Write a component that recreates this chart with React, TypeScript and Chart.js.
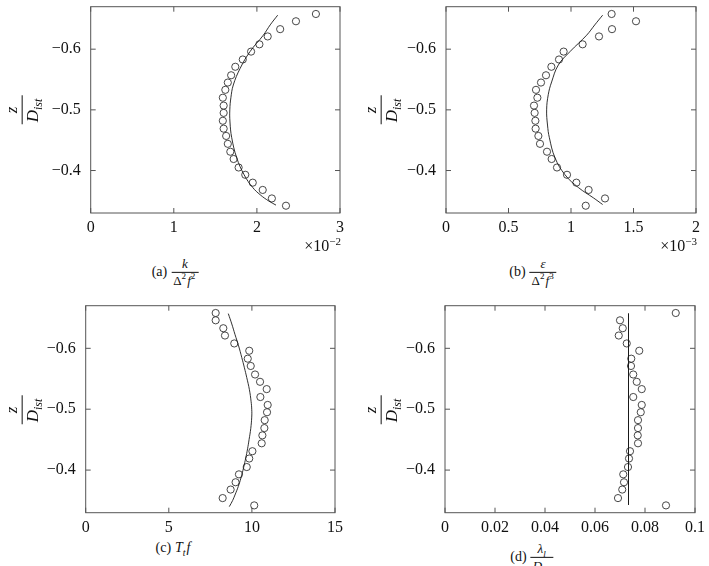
import React, { useEffect, useRef } from "react";
import { Chart, registerables } from "chart.js";

Chart.register(...registerables);

// shared measurement heights z / D_ist
const zPts = [-0.658, -0.646, -0.633, -0.621, -0.608, -0.596, -0.583, -0.571, -0.557, -0.545, -0.533, -0.520, -0.507, -0.495, -0.482, -0.469, -0.457, -0.444, -0.431, -0.419, -0.405, -0.393, -0.380, -0.368, -0.354, -0.342];

// (a) k / (Δ² f²)  [×10^-2]
const kPts = [2.71, 2.47, 2.28, 2.13, 2.03, 1.93, 1.83, 1.74, 1.69, 1.65, 1.62, 1.59, 1.60, 1.60, 1.59, 1.60, 1.63, 1.65, 1.68, 1.72, 1.78, 1.86, 1.95, 2.07, 2.18, 2.35];
const kCurveZ = [-0.656, -0.64, -0.623, -0.596, -0.568, -0.541, -0.52, -0.5, -0.48, -0.454, -0.421, -0.393, -0.372, -0.36, -0.35, -0.343];
const kCurveX = [2.25, 2.16, 2.077, 1.917, 1.797, 1.716, 1.687, 1.674, 1.676, 1.697, 1.757, 1.846, 1.95, 2.04, 2.14, 2.23];

// (b) ε / (Δ² f³)  [×10^-3]
const epsPts = [1.325, 1.52, 1.328, 1.224, 1.093, 0.941, 0.904, 0.843, 0.80, 0.76, 0.72, 0.731, 0.704, 0.709, 0.715, 0.717, 0.739, 0.752, 0.808, 0.845, 0.888, 0.968, 1.043, 1.141, 1.272, 1.118];
const epsCurveZ = [-0.656, -0.64, -0.623, -0.596, -0.574, -0.546, -0.525, -0.5, -0.475, -0.454, -0.421, -0.393, -0.372, -0.355, -0.344];
const epsCurveX = [1.253, 1.19, 1.125, 0.992, 0.899, 0.845, 0.818, 0.805, 0.812, 0.827, 0.872, 0.952, 1.059, 1.179, 1.253];

// (c) T_t f
const ttPts = [7.82, 7.82, 8.28, 8.38, 8.94, 9.84, 9.75, 9.93, 10.19, 10.49, 10.89, 10.51, 10.95, 10.91, 10.77, 10.75, 10.63, 10.59, 10.03, 9.84, 9.69, 9.22, 9.02, 8.72, 8.24, 10.14];
const ttCurveZ = [-0.657, -0.64, -0.623, -0.604, -0.585, -0.568, -0.552, -0.532, -0.513, -0.5, -0.487, -0.468, -0.45, -0.435, -0.42, -0.404, -0.387, -0.373, -0.359, -0.35, -0.34];
const ttCurveX = [8.58, 8.79, 8.98, 9.2, 9.39, 9.55, 9.69, 9.85, 9.95, 9.99, 9.99, 9.93, 9.83, 9.74, 9.63, 9.5, 9.34, 9.18, 8.98, 8.84, 8.64];

// (d) λ_l / D_ist
const lamPts = [0.0923, 0.0700, 0.0711, 0.0695, 0.0727, 0.0777, 0.0745, 0.0744, 0.0753, 0.0767, 0.0787, 0.0753, 0.0787, 0.0783, 0.0772, 0.0772, 0.0771, 0.0772, 0.0740, 0.0736, 0.0732, 0.0713, 0.0716, 0.0709, 0.0692, 0.0884];
const lamCurveZ = [-0.657, -0.343];
const lamCurveX = [0.0734, 0.0734];

const yTicks = [-0.6, -0.5, -0.4];
const yMin = -0.67;
const yMax = -0.33;

const FONT = "'Liberation Serif', 'Times New Roman', serif";

const framePlugin = {
  id: "frame",
  beforeDatasetsDraw(chart: any) {
    const { ctx, chartArea, scales } = chart;
    const { left, right, top, bottom } = chartArea;
    ctx.save();
    ctx.strokeStyle = "#555";
    ctx.lineWidth = 1;
    ctx.strokeRect(left, top, right - left, bottom - top);
    const L = 5;
    ctx.beginPath();
    for (const t of scales.x.ticks) {
      const px = scales.x.getPixelForValue(t.value);
      ctx.moveTo(px, bottom);
      ctx.lineTo(px, bottom - L);
      ctx.moveTo(px, top);
      ctx.lineTo(px, top + L);
    }
    for (const t of scales.y.ticks) {
      const py = scales.y.getPixelForValue(t.value);
      ctx.moveTo(left, py);
      ctx.lineTo(left + L, py);
      ctx.moveTo(right, py);
      ctx.lineTo(right - L, py);
    }
    ctx.stroke();
    ctx.restore();
  },
};

type PanelProps = {
  left: number;
  top: number;
  width: number;
  height: number;
  yWidth: number;
  xHeight: number;
  padTop: number;
  padRight: number;
  xMax: number;
  xStep: number;
  pts: number[];
  curveZ: number[];
  curveX: number[];
  tension: number;
};

function Panel(p: PanelProps) {
  const ref = useRef<HTMLCanvasElement>(null);
  useEffect(() => {
    if (!ref.current) return;
    const chart = new Chart(ref.current, {
      type: "scatter",
      data: {
        datasets: [
          {
            data: p.curveX.map((x, i) => ({ x, y: p.curveZ[i] })),
            showLine: true,
            tension: p.tension,
            borderColor: "#1a1a1a",
            borderWidth: 0.9,
            pointRadius: 0,
            fill: false,
          },
          {
            data: p.pts.map((x, i) => ({ x, y: zPts[i] })),
            showLine: false,
            pointStyle: "circle",
            pointRadius: 3.6,
            borderColor: "#333",
            borderWidth: 0.9,
            backgroundColor: "rgba(0,0,0,0)",
          },
        ],
      },
      options: {
        responsive: false,
        animation: false,
        events: [],
        layout: { padding: { top: p.padTop, right: p.padRight, left: 0, bottom: 0 } },
        plugins: { legend: { display: false }, tooltip: { enabled: false } },
        scales: {
          x: {
            type: "linear",
            min: 0,
            max: p.xMax,
            grid: { display: false, drawTicks: false },
            border: { display: false },
            ticks: {
              stepSize: p.xStep,
              padding: 5,
              color: "#111",
              font: { family: FONT, size: 16 },
              callback: (v: any) => String(Number(Number(v).toFixed(4))),
            },
            afterFit: (s: any) => {
              s.height = p.xHeight;
              s.paddingLeft = 0;
              s.paddingRight = 0;
            },
          },
          y: {
            type: "linear",
            reverse: true,
            min: yMin,
            max: yMax,
            grid: { display: false, drawTicks: false },
            border: { display: false },
            afterBuildTicks: (s: any) => {
              s.ticks = yTicks.map((v) => ({ value: v }));
            },
            ticks: {
              padding: 10,
              color: "#111",
              font: { family: FONT, size: 16 },
              callback: (v: any) => "\u2212" + Math.abs(Number(v)).toFixed(1),
            },
            afterFit: (s: any) => {
              s.width = p.yWidth;
              s.paddingTop = 0;
              s.paddingBottom = 0;
            },
          },
        },
      },
      plugins: [framePlugin],
    } as any);
    return () => chart.destroy();
  }, []);
  return (
    <canvas
      ref={ref}
      width={p.width}
      height={p.height}
      style={{ position: "absolute", left: p.left, top: p.top, width: p.width, height: p.height }}
    />
  );
}

const Frac = ({ num, den, size }: { num: any; den: any; size: number }) => (
  <span
    style={{
      display: "inline-flex",
      flexDirection: "column",
      alignItems: "center",
      verticalAlign: "middle",
      fontSize: size,
      lineHeight: 1.05,
    }}
  >
    <span style={{ padding: "0 2px 1px" }}>{num}</span>
    <span style={{ borderTop: "0.8px solid #111", padding: "1px 2px 0", whiteSpace: "nowrap" }}>{den}</span>
  </span>
);

const supS: React.CSSProperties = { fontSize: "70%", verticalAlign: "super", lineHeight: 0, marginRight: 1 };
const subS: React.CSSProperties = { fontSize: "70%", verticalAlign: "sub", lineHeight: 0, fontStyle: "italic", marginRight: 1 };

const YTitle = ({ cx, cy }: { cx: number; cy: number }) => (
  <div
    style={{
      position: "absolute",
      left: cx,
      top: cy,
      transform: "translate(-50%,-50%) rotate(-90deg)",
      fontFamily: FONT,
      color: "#111",
      whiteSpace: "nowrap",
    }}
  >
    <Frac
      size={17}
      num={<i>z</i>}
      den={
        <>
          <i>D</i>
          <span style={subS}>ist</span>
        </>
      }
    />
  </div>
);

const Caption = ({ cx, cy, children }: { cx: number; cy: number; children: any }) => (
  <div
    style={{
      position: "absolute",
      left: cx,
      top: cy,
      transform: "translate(-50%,-50%)",
      fontFamily: FONT,
      fontSize: 14,
      color: "#111",
      whiteSpace: "nowrap",
      display: "flex",
      alignItems: "center",
      gap: 4,
    }}
  >
    {children}
  </div>
);

const Exponent = ({ right, cy, exp }: { right: number; cy: number; exp: string }) => (
  <div
    style={{
      position: "absolute",
      right: 709 - right,
      top: cy,
      transform: "translateY(-50%)",
      fontFamily: FONT,
      fontSize: 16,
      color: "#111",
      whiteSpace: "nowrap",
    }}
  >
    ×10<span style={{ fontSize: 11, verticalAlign: "super", lineHeight: 0 }}>{exp}</span>
  </div>
);

export default function App() {
  return (
    <div
      style={{
        position: "fixed",
        left: 0,
        top: 0,
        width: 709,
        height: 566,
        overflow: "hidden",
        background: "#fff",
      }}
    >
      <Panel left={0} top={0} width={354} height={240} yWidth={90.7} xHeight={27} padTop={6.7} padRight={14}
        xMax={3} xStep={1} pts={kPts} curveZ={kCurveZ} curveX={kCurveX} tension={0.4} />
      <Panel left={354} top={0} width={355} height={240} yWidth={92} xHeight={27} padTop={6.7} padRight={13}
        xMax={2} xStep={0.5} pts={epsPts} curveZ={epsCurveZ} curveX={epsCurveX} tension={0.4} />
      <Panel left={0} top={290} width={354} height={250} yWidth={85.7} xHeight={27.3} padTop={15.7} padRight={19}
        xMax={15} xStep={5} pts={ttPts} curveZ={ttCurveZ} curveX={ttCurveX} tension={0.4} />
      <Panel left={354} top={290} width={355} height={250} yWidth={91} xHeight={27.3} padTop={15.7} padRight={14}
        xMax={0.1} xStep={0.02} pts={lamPts} curveZ={lamCurveZ} curveX={lamCurveX} tension={0} />

      <YTitle cx={22} cy={110} />
      <YTitle cx={381} cy={110} />
      <YTitle cx={22} cy={410} />
      <YTitle cx={381} cy={410} />

      <Exponent right={341} cy={246} exp="−2" />
      <Exponent right={697} cy={246} exp="−3" />

      <Caption cx={175} cy={272}>
        <span>(a)</span>
        <Frac size={13} num={<i>k</i>} den={<>Δ<span style={supS}>2</span><i>f</i><span style={supS}>2</span></>} />
      </Caption>
      <Caption cx={533} cy={272}>
        <span>(b)</span>
        <Frac size={13} num={<i>ε</i>} den={<>Δ<span style={supS}>2</span><i>f</i><span style={supS}>3</span></>} />
      </Caption>
      <Caption cx={173} cy={548}>
        <span>(c)</span>
        <span>
          <i>T</i>
          <span style={subS}>t</span>
          <i>f</i>
        </span>
      </Caption>
      <Caption cx={532} cy={557}>
        <span>(d)</span>
        <Frac size={13} num={<><i>λ</i><span style={subS}>l</span></>} den={<><i>D</i><span style={subS}>ist</span></>} />
      </Caption>
    </div>
  );
}
